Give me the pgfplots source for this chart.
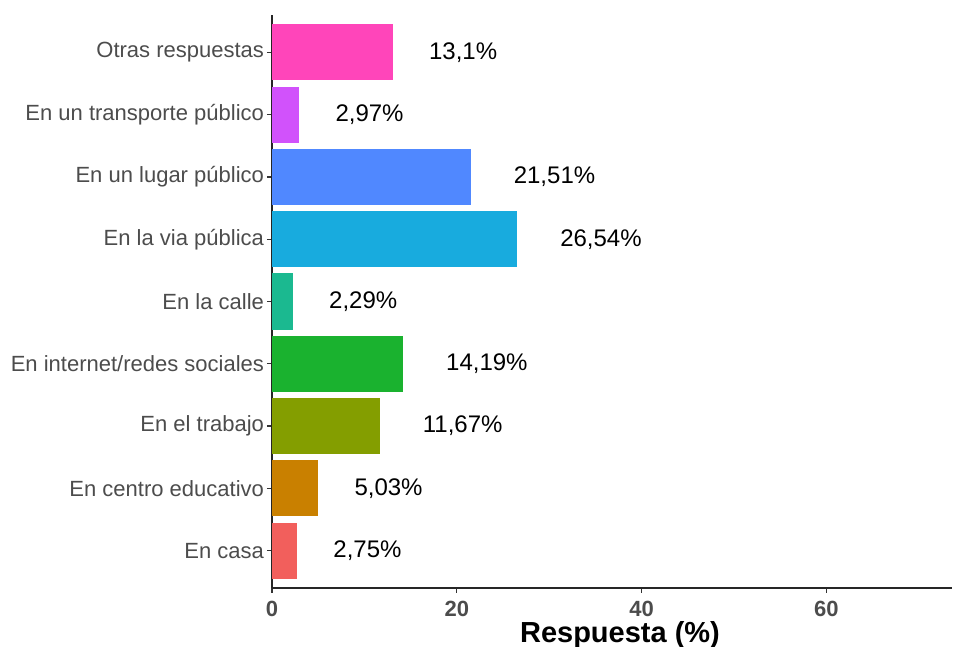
\documentclass[border=0pt]{standalone}
\usepackage{fontspec}
\setmainfont{Liberation Sans}
\usepackage{pgfplots}
\pgfplotsset{compat=1.18}
\definecolor{cCasa}{HTML}{F25F5C}
\definecolor{cEduc}{HTML}{C98000}
\definecolor{cTrab}{HTML}{849E00}
\definecolor{cRedes}{HTML}{1AB22F}
\definecolor{cCalle}{HTML}{1BB990}
\definecolor{cVia}{HTML}{18ABDE}
\definecolor{cLugar}{HTML}{5088FF}
\definecolor{cTransp}{HTML}{D152FB}
\definecolor{cOtras}{HTML}{FF45BA}

\begin{document}
\begin{tikzpicture}
\begin{axis}[
  scale only axis, width=340pt, height=286.5pt,
  xmin=0, xmax=73.6, ymin=0.4, ymax=9.6,
  axis x line*=bottom, axis y line*=left,
  axis line style={line width=0.75pt, color=black!85},
  xtick={0,20,40,60}, ytick={1,...,9},
  yticklabels={En casa, En centro educativo, En el trabajo, En internet/redes sociales, En la calle, En la via pública, En un lugar público, En un transporte público, Otras respuestas},
  tick align=outside, major tick length=2.5pt,
  xtick pos=bottom, ytick pos=left,
  tick style={line width=0.6pt, color=black!80},
  xticklabel style={font=\fontsize{11}{13}\selectfont\bfseries, text=black!70, yshift=-0.5pt},
  yticklabel style={font=\fontsize{11}{13}\selectfont, text=black!70, xshift=2pt},
  /pgf/number format/assume math mode=true,
  xlabel={Respuesta (\%)},
  xlabel style={font=\fontsize{14.5}{16}\selectfont\bfseries, at={(axis description cs:0.5,0)}, anchor=center, yshift=-23.5pt, xshift=4pt},
  xbar, bar width=0.9, bar shift=0pt,
  point meta=explicit symbolic,
  nodes near coords,
  nodes near coords style={font=\fontsize{12}{14}\selectfont, text=black, anchor=west},
  clip=false,
]
\addplot[fill=cCasa, draw=none, nodes near coords style={xshift=14.5pt}] coordinates {(2.75,1) [2,75\%]};
\addplot[fill=cEduc, draw=none, nodes near coords style={xshift=14.5pt}] coordinates {(5.03,2) [5,03\%]};
\addplot[fill=cTrab, draw=none, nodes near coords style={xshift=18pt}] coordinates {(11.67,3) [11,67\%]};
\addplot[fill=cRedes, draw=none, nodes near coords style={xshift=18pt}] coordinates {(14.19,4) [14,19\%]};
\addplot[fill=cCalle, draw=none, nodes near coords style={xshift=14.5pt}] coordinates {(2.29,5) [2,29\%]};
\addplot[fill=cVia, draw=none, nodes near coords style={xshift=18pt}] coordinates {(26.54,6) [26,54\%]};
\addplot[fill=cLugar, draw=none, nodes near coords style={xshift=18pt}] coordinates {(21.51,7) [21,51\%]};
\addplot[fill=cTransp, draw=none, nodes near coords style={xshift=14.5pt}] coordinates {(2.97,8) [2,97\%]};
\addplot[fill=cOtras, draw=none, nodes near coords style={xshift=14.5pt}] coordinates {(13.1,9) [13,1\%]};
\coordinate (bl) at (rel axis cs:0,0);
\coordinate (tr) at (rel axis cs:1,1);
\end{axis}
\pgfresetboundingbox
\path ([shift={(-136pt,-29.5pt)}]bl) rectangle ([shift={(0.5pt,7.5pt)}]tr);
\end{tikzpicture}
\end{document}
